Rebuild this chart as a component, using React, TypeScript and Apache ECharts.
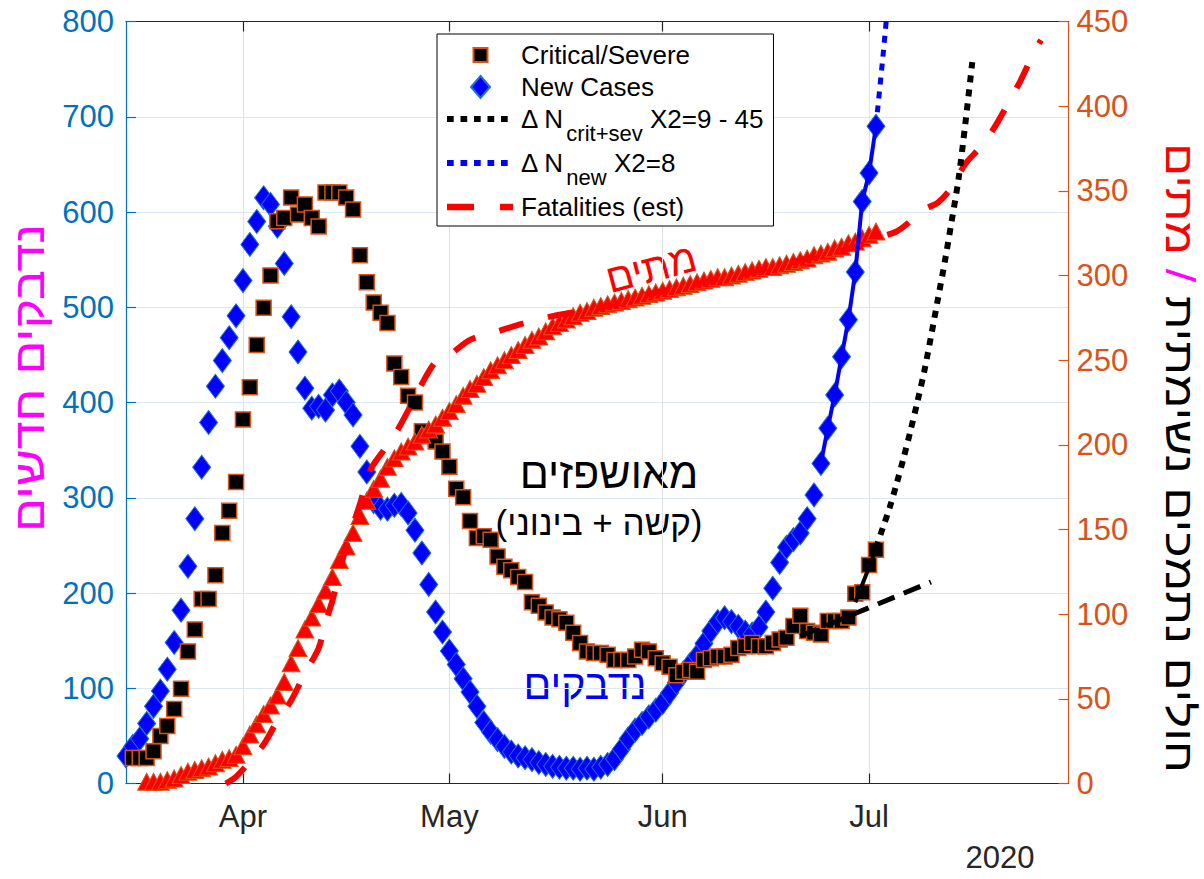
import React, { useEffect, useRef } from 'react';
import * as echarts from 'echarts';

const FONT = '"Liberation Sans", Arial, Helvetica, sans-serif';

// x values are day numbers counted from 1 March 2020 (1 April = 31)
const monthTickDays = [31, 61, 92, 122];
const monthTickLabels = ['Apr', 'May', 'Jun', 'Jul'];
const xMinDay = 14;
const xMaxDay = 151;
const yearLabel = '2020';

const leftAxisMax = 800;
const leftAxisStep = 100;
const rightAxisMax = 450;
const rightAxisStep = 50;

// New cases (left axis), one value per day from day 14
const newCasesStartDay = 14;
const newCases = [
  29, 39, 47, 63, 81, 97, 120, 148, 182, 228,
  278, 332, 379, 417, 444, 468, 491, 528, 566, 590,
  615, 608, 585, 546, 490, 453, 415, 394, 396, 392,
  408, 412, 400, 387, 354, 327, 296, 289, 288, 292,
  293, 284, 266, 242, 209, 180, 159, 139, 125, 110,
  96, 81, 64, 54, 46, 39, 33, 29, 27, 25,
  22, 20, 18, 17, 16, 16, 15, 16, 15, 17,
  20, 26, 36, 47, 56, 63, 70, 77, 85, 95,
  106, 116, 125, 134, 147, 160, 170, 174, 170, 165,
  159, 157, 164, 180, 205, 232, 248, 256, 263, 278,
  303, 336, 373, 408, 448, 487, 537, 611, 641, 690,
];

// Critical / severe (right axis), one value per day from day 15
const criticalStartDay = 15;
const criticalSevere = [
  15, 15, 15, 19, 28, 34, 44, 56, 78, 91,
  109, 109, 123, 148, 161, 178, 215, 234, 259, 281,
  300, 332, 334, 346, 336, 342, 334, 329, 349, 349,
  349, 346, 339, 312, 296, 284, 278, 272, 248, 240,
  229, 225, 208, 205, 202, 196, 187, 174, 169, 155,
  145, 146, 144, 134, 128, 126, 122, 119, 107, 105,
  101, 98, 97, 95, 89, 83, 78, 77, 77, 76,
  73, 73, 73, 75, 79, 78, 74, 71, 69, 64,
  66, 67, 66, 73, 74, 75, 75, 76, 80, 81,
  83, 81, 81, 83, 85, 86, 93, 99, 90, 89,
  88, 96, 96, 96, 98, 112, 113, 129, 138,
];

// Fatalities (right axis), one value per day from day 17
const fatalitiesStartDay = 17;
const fatalities = [
  1, 1, 1, 2, 3, 5, 7, 8, 9, 10, 12,
  14, 15, 17, 22, 29, 35, 41, 46, 52, 60,
  71, 80, 91, 98, 106, 114, 122, 132, 140, 148,
  158, 167, 174, 180, 187, 192, 196, 199, 202, 206,
  209, 212, 216, 220, 224, 229, 233, 236, 240, 244,
  247, 250, 253, 256, 259, 262, 264, 267, 270, 272,
  274, 276, 278, 279, 281, 282, 283, 284, 285, 286,
  287, 288, 289, 290, 291, 292, 293, 294, 295, 296,
  297, 298, 299, 299, 300, 301, 302, 303, 304, 305,
  305, 306, 307, 308, 309, 310, 312, 313, 314, 316,
  317, 319, 320, 322, 324, 326,
];

// Fatalities (est) curve (right axis)
const fatalEstDays = [28.5, 30, 32, 34, 36, 38, 40, 42, 43, 44, 46, 48, 49.5, 51.5, 53.5, 55.5, 57, 59, 61, 64, 68, 72, 76, 80, 85, 90, 95, 100, 105, 110, 115, 120, 123, 126, 128, 130, 132, 134, 136, 138, 140, 142, 144, 146, 147];
const fatalEstValues = [0, 4, 13, 23, 37, 49, 65, 80, 95, 108, 140, 165, 185, 197, 209, 224, 236, 249, 253, 262, 267, 272, 276, 279, 283, 289, 293, 298, 302, 307, 312, 317, 322, 326, 332, 339, 343, 352, 366, 375, 386, 400, 415, 432, 439];

// Exponential extrapolation of critical+severe (right axis)
const critFitDays = [123, 124, 125, 126, 127, 128, 129, 130, 131, 132, 133, 134, 135, 136, 137];
const critFitValues = [139, 151, 163, 177, 192, 208, 225, 243, 264, 286, 308, 332, 357, 390, 426];
// Linear trend of critical+severe (right axis)
const critLinDays = [112, 131];
const critLinValues = [87, 119];
// Recent critical+severe trend segment (right axis)
const critRecentDays = [120, 123];
const critRecentValues = [107, 138];
// New cases: recent segment start and extrapolation (left axis)
const newRecentStartDay = 115;
const newFitDays = [123, 124, 125];
const newFitValues = [690, 762, 840];

const pairs = (start: number, vals: number[]) => vals.map((v, i) => [start + i, v]);
const zip = (days: number[], vals: number[]) => days.map((d, i) => [d, vals[i]]);

const BLUE_AX = '#0072BD';
const ORANGE_AX = '#D95319';
const DARK = '#262626';

// legend icons: fixed 67x22 frame (degenerate corner points) so shapes keep their own size
const ICON_FRAME = 'M0,-8L0,-8M67,14L67,14';
const box = (x0: number, y0: number, x1: number, y1: number) => `M${x0},${y0}L${x1},${y0}L${x1},${y1}L${x0},${y1}Z`;
const dottedIcon = 'path://' + ICON_FRAME + [0, 13.5, 27, 40.5, 54].map((x) => box(x, 0, x + 6.7, 6)).join('');
const dashedIcon = 'path://' + ICON_FRAME + box(0, -0.3, 27, 6.3) + box(53, -0.3, 66, 6.3);
const squareIcon = 'path://' + ICON_FRAME + box(26.5, -4, 40.5, 10);
const diamondIcon = 'path://' + ICON_FRAME + 'M33.5,-8L43,3L33.5,14L24,3Z';

export default function App() {
  const ref = useRef<HTMLDivElement>(null);

  useEffect(() => {
    const chart = echarts.init(ref.current as HTMLDivElement, null, { renderer: 'svg' });

    const monthName = (v: number) => {
      const i = monthTickDays.indexOf(Math.round(v));
      return i >= 0 ? monthTickLabels[i] : '';
    };

    const newRecent = pairs(newCasesStartDay, newCases).filter((p) => p[0] >= newRecentStartDay);

    const richBase = { fontFamily: FONT, fontSize: 26, color: '#000' };

    const option: any = {
      animation: false,
      backgroundColor: '#ffffff',
      grid: { left: 126, top: 21.5, width: 942.6, height: 762, containLabel: false },
      legend: {
        orient: 'vertical',
        left: 437,
        top: 34,
        backgroundColor: '#ffffff',
        borderColor: '#000000',
        borderWidth: 1,
        borderRadius: 0,
        padding: [8, 10, 6, 9],
        itemGap: 6,
        itemWidth: 67,
        itemHeight: 22,
        symbolKeepAspect: true,
        selectedMode: false,
        data: [
          { name: 'Critical/Severe', icon: squareIcon },
          { name: 'New Cases', icon: diamondIcon },
          { name: 'critFit', icon: dottedIcon },
          { name: 'newFit', icon: dottedIcon },
          { name: 'Fatalities (est)', icon: dashedIcon },
        ],
        formatter: (name: string) => {
          if (name === 'critFit') return '{t0|Δ N}{s|crit+sev}{t| X2=9 - 45}';
          if (name === 'newFit') return '{t0|Δ N}{s|new}{t| X2=8}';
          return '{p|' + name + '}';
        },
        textStyle: {
          ...richBase,
          rich: {
            p: { ...richBase, lineHeight: 26, padding: [0, 0, 0, 2] },
            t0: { ...richBase, lineHeight: 26, padding: [0, 0, 0, 2], verticalAlign: 'top' },
            t: { ...richBase, lineHeight: 26, verticalAlign: 'top' },
            s: { ...richBase, fontSize: 22, lineHeight: 22, padding: [16, 0, 0, 2], verticalAlign: 'top' },
          },
        },
      },
      xAxis: [
        {
          type: 'value',
          position: 'bottom',
          min: xMinDay,
          max: xMaxDay,
          axisLine: { show: true, onZero: false, lineStyle: { color: DARK, width: 1.2 } },
          axisTick: { show: true, inside: true, length: 10, customValues: monthTickDays, lineStyle: { color: DARK, width: 1.2 } },
          axisLabel: { show: true, customValues: monthTickDays, formatter: monthName, color: DARK, fontSize: 31, fontFamily: FONT, margin: 17 },
          splitLine: { show: true, lineStyle: { color: '#e2e2e2', width: 1 } },
        },
        {
          type: 'value',
          position: 'top',
          min: xMinDay,
          max: xMaxDay,
          axisLine: { show: true, onZero: false, lineStyle: { color: DARK, width: 1.2 } },
          axisTick: { show: true, inside: true, length: 10, customValues: monthTickDays, lineStyle: { color: DARK, width: 1.2 } },
          axisLabel: { show: false },
          splitLine: { show: false },
        },
      ],
      yAxis: [
        {
          type: 'value',
          position: 'left',
          min: 0,
          max: leftAxisMax,
          interval: leftAxisStep,
          axisLine: { show: true, onZero: false, lineStyle: { color: BLUE_AX, width: 1.2 } },
          axisTick: { show: true, inside: true, length: 10, lineStyle: { color: BLUE_AX, width: 1.2 } },
          axisLabel: { color: BLUE_AX, fontSize: 31, fontFamily: FONT, margin: 12 },
          splitLine: { show: true, lineStyle: { color: '#dbe8f3', width: 1 } },
        },
        {
          type: 'value',
          position: 'right',
          min: 0,
          max: rightAxisMax,
          interval: rightAxisStep,
          axisLine: { show: true, onZero: false, lineStyle: { color: ORANGE_AX, width: 1.2 } },
          axisTick: { show: true, inside: true, length: 10, lineStyle: { color: ORANGE_AX, width: 1.2 } },
          axisLabel: { color: ORANGE_AX, fontSize: 31, fontFamily: FONT, margin: 8 },
          splitLine: { show: false },
        },
      ],
      series: [
        {
          name: 'Fatalities (est)',
          type: 'line',
          xAxisIndex: 0,
          yAxisIndex: 1,
          data: zip(fatalEstDays, fatalEstValues),
          symbol: 'none',
          smooth: 0.3,
          lineStyle: { color: '#FF0000', width: 6, type: [25, 25], cap: 'butt' },
          itemStyle: { color: '#FF0000' },
        },
        {
          name: 'New Cases',
          type: 'scatter',
          xAxisIndex: 0,
          yAxisIndex: 0,
          data: pairs(newCasesStartDay, newCases),
          symbol: 'diamond',
          symbolSize: [18, 24],
          itemStyle: { color: '#0000FF', borderColor: '#1f6fd6', borderWidth: 1, opacity: 1 },
        },
        {
          name: 'newRecent',
          type: 'line',
          xAxisIndex: 0,
          yAxisIndex: 0,
          data: newRecent,
          symbol: 'none',
          lineStyle: { color: '#0000FF', width: 4 },
        },
        {
          name: 'newFit',
          type: 'line',
          xAxisIndex: 0,
          yAxisIndex: 0,
          data: zip(newFitDays, newFitValues),
          symbol: 'none',
          lineStyle: { color: '#0000FF', width: 5, type: [7, 7], cap: 'butt' },
          itemStyle: { color: '#0000FF' },
        },
        {
          name: 'Critical/Severe',
          type: 'scatter',
          xAxisIndex: 0,
          yAxisIndex: 1,
          data: pairs(criticalStartDay, criticalSevere),
          symbol: 'rect',
          symbolSize: 15,
          itemStyle: { color: '#000000', borderColor: ORANGE_AX, borderWidth: 1.5, opacity: 1 },
        },
        {
          name: 'critLinear',
          type: 'line',
          xAxisIndex: 0,
          yAxisIndex: 1,
          data: zip(critLinDays, critLinValues),
          symbol: 'none',
          lineStyle: { color: '#000000', width: 5, type: [18, 10], cap: 'butt' },
        },
        {
          name: 'critRecent',
          type: 'line',
          xAxisIndex: 0,
          yAxisIndex: 1,
          data: zip(critRecentDays, critRecentValues),
          symbol: 'none',
          lineStyle: { color: '#000000', width: 4 },
        },
        {
          name: 'critFit',
          type: 'line',
          xAxisIndex: 0,
          yAxisIndex: 1,
          data: zip(critFitDays, critFitValues),
          symbol: 'none',
          smooth: 0.3,
          lineStyle: { color: '#000000', width: 6, type: [7, 7], cap: 'butt' },
          itemStyle: { color: '#000000' },
        },
        {
          name: 'Fatalities',
          type: 'scatter',
          xAxisIndex: 0,
          yAxisIndex: 1,
          data: pairs(fatalitiesStartDay, fatalities),
          symbol: 'triangle',
          symbolSize: [18, 17],
          itemStyle: { color: '#FF0000', borderColor: ORANGE_AX, borderWidth: 1, opacity: 1 },
        },
      ],
      graphic: [
        {
          type: 'text',
          x: 29,
          y: 378,
          rotation: Math.PI / 2,
          scaleX: 1.14,
          style: { text: 'נדבקים חדשים', fill: '#FF00FF', fontSize: 44, fontFamily: FONT, align: 'center', verticalAlign: 'middle' },
        },
        {
          type: 'text',
          x: 1180,
          y: 458,
          rotation: -Math.PI / 2,
          scaleX: 1.22,
          style: {
            text: '{r|מתים}{m| / }{k|חולים נתמכים נשימתית}',
            align: 'center',
            verticalAlign: 'middle',
            fontSize: 40,
            fontFamily: FONT,
            rich: {
              r: { fill: '#FF0000', fontSize: 40, fontFamily: FONT },
              m: { fill: '#FF00FF', fontSize: 40, fontFamily: FONT },
              k: { fill: '#000000', fontSize: 40, fontFamily: FONT },
            },
          },
        },
        {
          type: 'text',
          x: 651,
          y: 268,
          rotation: 0.26,
          style: { text: 'מתים', fill: '#FF0000', fontSize: 40, fontFamily: FONT, align: 'center', verticalAlign: 'middle' },
        },
        {
          type: 'text',
          x: 609,
          y: 473,
          style: { text: 'מאושפזים', fill: '#000000', fontSize: 43, fontFamily: FONT, align: 'center', verticalAlign: 'middle' },
        },
        {
          type: 'text',
          x: 599,
          y: 522,
          style: { text: '(קשה + בינוני)', fill: '#000000', fontSize: 35, fontFamily: FONT, align: 'center', verticalAlign: 'middle' },
        },
        {
          type: 'text',
          x: 585,
          y: 685,
          style: { text: 'נדבקים', fill: '#0000FF', fontSize: 41, fontFamily: FONT, align: 'center', verticalAlign: 'middle' },
        },
        {
          type: 'text',
          x: 1000,
          y: 857,
          style: { text: yearLabel, fill: DARK, fontSize: 31, fontFamily: FONT, align: 'center', verticalAlign: 'middle' },
        },
      ],
    };

    chart.setOption(option);
    return () => chart.dispose();
  }, []);

  return (
    <div
      ref={ref}
      style={{ position: 'absolute', left: 0, top: 0, width: 1204, height: 879, background: '#ffffff' }}
    />
  );
}
